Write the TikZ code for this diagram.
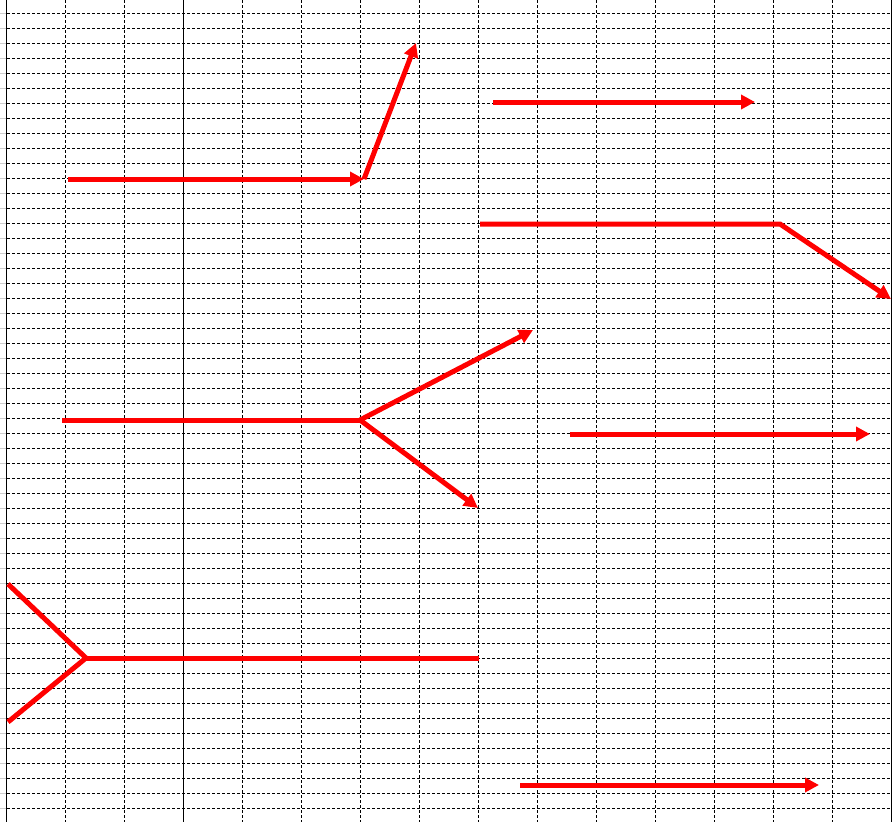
\documentclass[tikz,border=0pt]{standalone}
\usetikzlibrary{arrows.meta}

\tikzset{
  gridline/.style={line width=1.1pt, dash pattern=on 3pt off 2pt},
  redline/.style={red, line width=5pt, line join=miter},
  redarrow/.style={redline, -{Triangle[length=14pt,width=14pt]}}
}

\begin{document}
\begin{tikzpicture}[x=1pt,y=-1pt]

\useasboundingbox[fill=white] (0,0) rectangle (892,822);

% sheet grid
\foreach \r in {0,...,53}
  \draw[black!20, line width=1pt] (0,13.5+15*\r) -- (6,13.5+15*\r);
\foreach \r in {0,...,53}
  \draw[gridline] (7,13.5+15*\r) -- (892,13.5+15*\r);
\foreach \c in {1,2,4,5,...,14}
  \draw[gridline] (6.5+59*\c,0) -- (6.5+59*\c,822);
\foreach \x in {6.5,183.5,891.5}
  \draw[line width=1.1pt] (\x,0) -- (\x,822);

% arrow 1
\coordinate (a1) at (68,179);
\coordinate (a2) at (364,179);
\coordinate (a3) at (416,43);
\draw[redarrow] (a1) -- (a2);
\draw[redarrow] (a2) -- (a3);

% arrow 2
\coordinate (b1) at (493,102);
\coordinate (b2) at (755,102);
\draw[redarrow] (b1) -- (b2);

% arrow 3
\coordinate (c1) at (480,224);
\coordinate (c2) at (780,224);
\coordinate (c3) at (891,299);
\draw[redarrow] (c1) -- (c2) -- (c3);

% arrow 4 (split)
\coordinate (d1) at (62,420);
\coordinate (d2) at (360,420);
\coordinate (d3) at (533,330);
\coordinate (d4) at (478,508);
\draw[redline] (d1) -- (d2);
\draw[redarrow] (d2) -- (d3);
\draw[redarrow] (d2) -- (d4);

% arrow 5
\coordinate (e1) at (570,434);
\coordinate (e2) at (870,434);
\draw[redarrow] (e1) -- (e2);

% arrow 6 (merge)
\coordinate (f1) at (8,584);
\coordinate (f2) at (8,722);
\coordinate (f3) at (86,658);
\coordinate (f4) at (479,658);
\draw[redline] (f1) -- (f3);
\draw[redline] (f2) -- (f3);
\draw[redline] (f3) -- (f4);

% arrow 7
\coordinate (g1) at (520,785);
\coordinate (g2) at (819,785);
\draw[redarrow] (g1) -- (g2);

\end{tikzpicture}
\end{document}
